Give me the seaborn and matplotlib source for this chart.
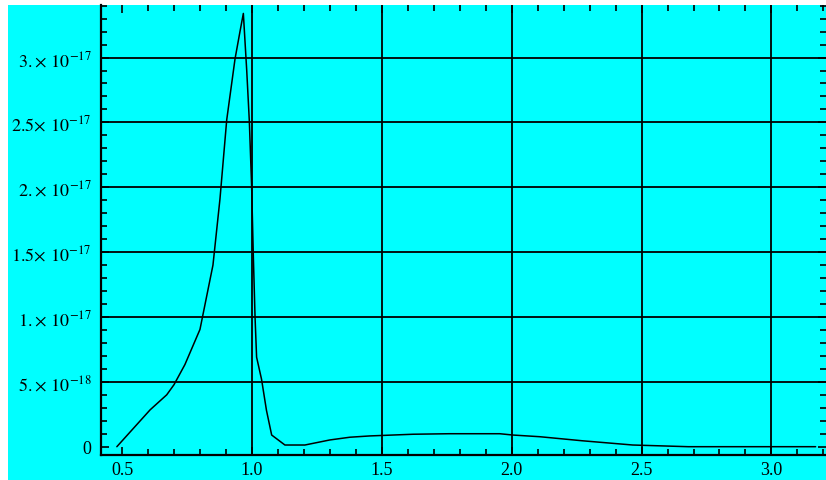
import numpy as np
import pandas as pd
import matplotlib
matplotlib.use("Agg")
import matplotlib.pyplot as plt
from matplotlib.patches import Rectangle
from matplotlib.ticker import MultipleLocator
import seaborn as sns

# curve (y in units of 1e-17)
x_vals = [0.48, 0.608, 0.672, 0.70, 0.742, 0.80, 0.85, 0.877, 0.903, 0.935,
          0.954, 0.967, 0.98, 0.99, 0.999, 1.005, 1.012, 1.018, 1.037, 1.056,
          1.076, 1.127, 1.204, 1.30, 1.377, 1.454, 1.62, 1.76, 1.954, 2.004,
          2.108, 2.27, 2.466, 2.68, 3.17]
y_vals = [0.0, 0.284, 0.40, 0.478, 0.633, 0.904, 1.40, 1.91, 2.52, 2.99,
          3.20, 3.34, 2.90, 2.51, 2.0, 1.5, 1.0, 0.69, 0.52, 0.28,
          0.09, 0.013, 0.013, 0.052, 0.073, 0.083, 0.096, 0.10, 0.10, 0.09,
          0.077, 0.046, 0.013, 0.0, 0.0]

x_ticks = [0.5, 1.0, 1.5, 2.0, 2.5, 3.0]
x_tick_labels = ["0.5", "1.0", "1.5", "2.0", "2.5", "3.0"]
y_ticks = [0, 5e-18, 1e-17, 1.5e-17, 2e-17, 2.5e-17, 3e-17]
y_tick_labels = ["0",
                 r"$5.\!\times\, 10^{-18}$",
                 r"$1.\!\times\, 10^{-17}$",
                 r"$1.5\!\times\, 10^{-17}$",
                 r"$2.\!\times\, 10^{-17}$",
                 r"$2.5\!\times\, 10^{-17}$",
                 r"$3.\!\times\, 10^{-17}$"]
x_grid = [1.0, 1.5, 2.0, 2.5, 3.0]
y_grid = [5e-18, 1e-17, 1.5e-17, 2e-17, 2.5e-17, 3e-17]

df = pd.DataFrame({"x": x_vals, "y": np.array(y_vals) * 1e-17})

sns.set_theme(style="ticks")
plt.rcParams["font.family"] = ["Liberation Serif", "DejaVu Serif"]
plt.rcParams["mathtext.fontset"] = "stix"

W, H = 826, 481
fig = plt.figure(figsize=(W / 100, H / 100), dpi=100)
fig.patch.set_facecolor("white")
cyan = "#00FFFF"
fig.patches.append(Rectangle((8 / W, 0), 1 - 8 / W, 1 - 6 / H,
                             transform=fig.transFigure, facecolor=cyan,
                             edgecolor="none", zorder=-5))

ax = fig.add_axes([101 / W, 25 / H, (W - 101) / W, (H - 6 - 25) / H])
ax.set_facecolor(cyan)

for gx in x_grid:
    ax.axvline(gx, color="black", lw=1.3, zorder=1)
for gy in y_grid:
    ax.axhline(gy, color="black", lw=1.3, zorder=1)

sns.lineplot(data=df, x="x", y="y", color="black", lw=1.1, ax=ax, zorder=3)

ax.set_xlim(0.419, 3.21)
ax.set_ylim(-0.064e-17, 3.405e-17)
ax.set_xlabel("")
ax.set_ylabel("")

ax.set_xticks(x_ticks)
ax.set_xticklabels(x_tick_labels, fontsize=13)
ax.set_yticks(y_ticks)
ax.set_yticklabels(y_tick_labels, fontsize=13)
ax.xaxis.set_minor_locator(MultipleLocator(0.1))
ax.yaxis.set_minor_locator(MultipleLocator(1e-18))

ax.tick_params(which="both", direction="in", top=True, right=True,
               color="black", width=1.2, labelcolor="black")
ax.tick_params(which="major", length=6, pad=5)
ax.tick_params(axis="x", which="major", pad=4)
ax.tick_params(axis="y", which="major", pad=7)
ax.tick_params(which="minor", length=4)

for side in ["top", "right"]:
    ax.spines[side].set_visible(False)
for side in ["left", "bottom"]:
    ax.spines[side].set_color("black")
    ax.spines[side].set_linewidth(1.6)

fig.savefig("out.png", dpi=100)
